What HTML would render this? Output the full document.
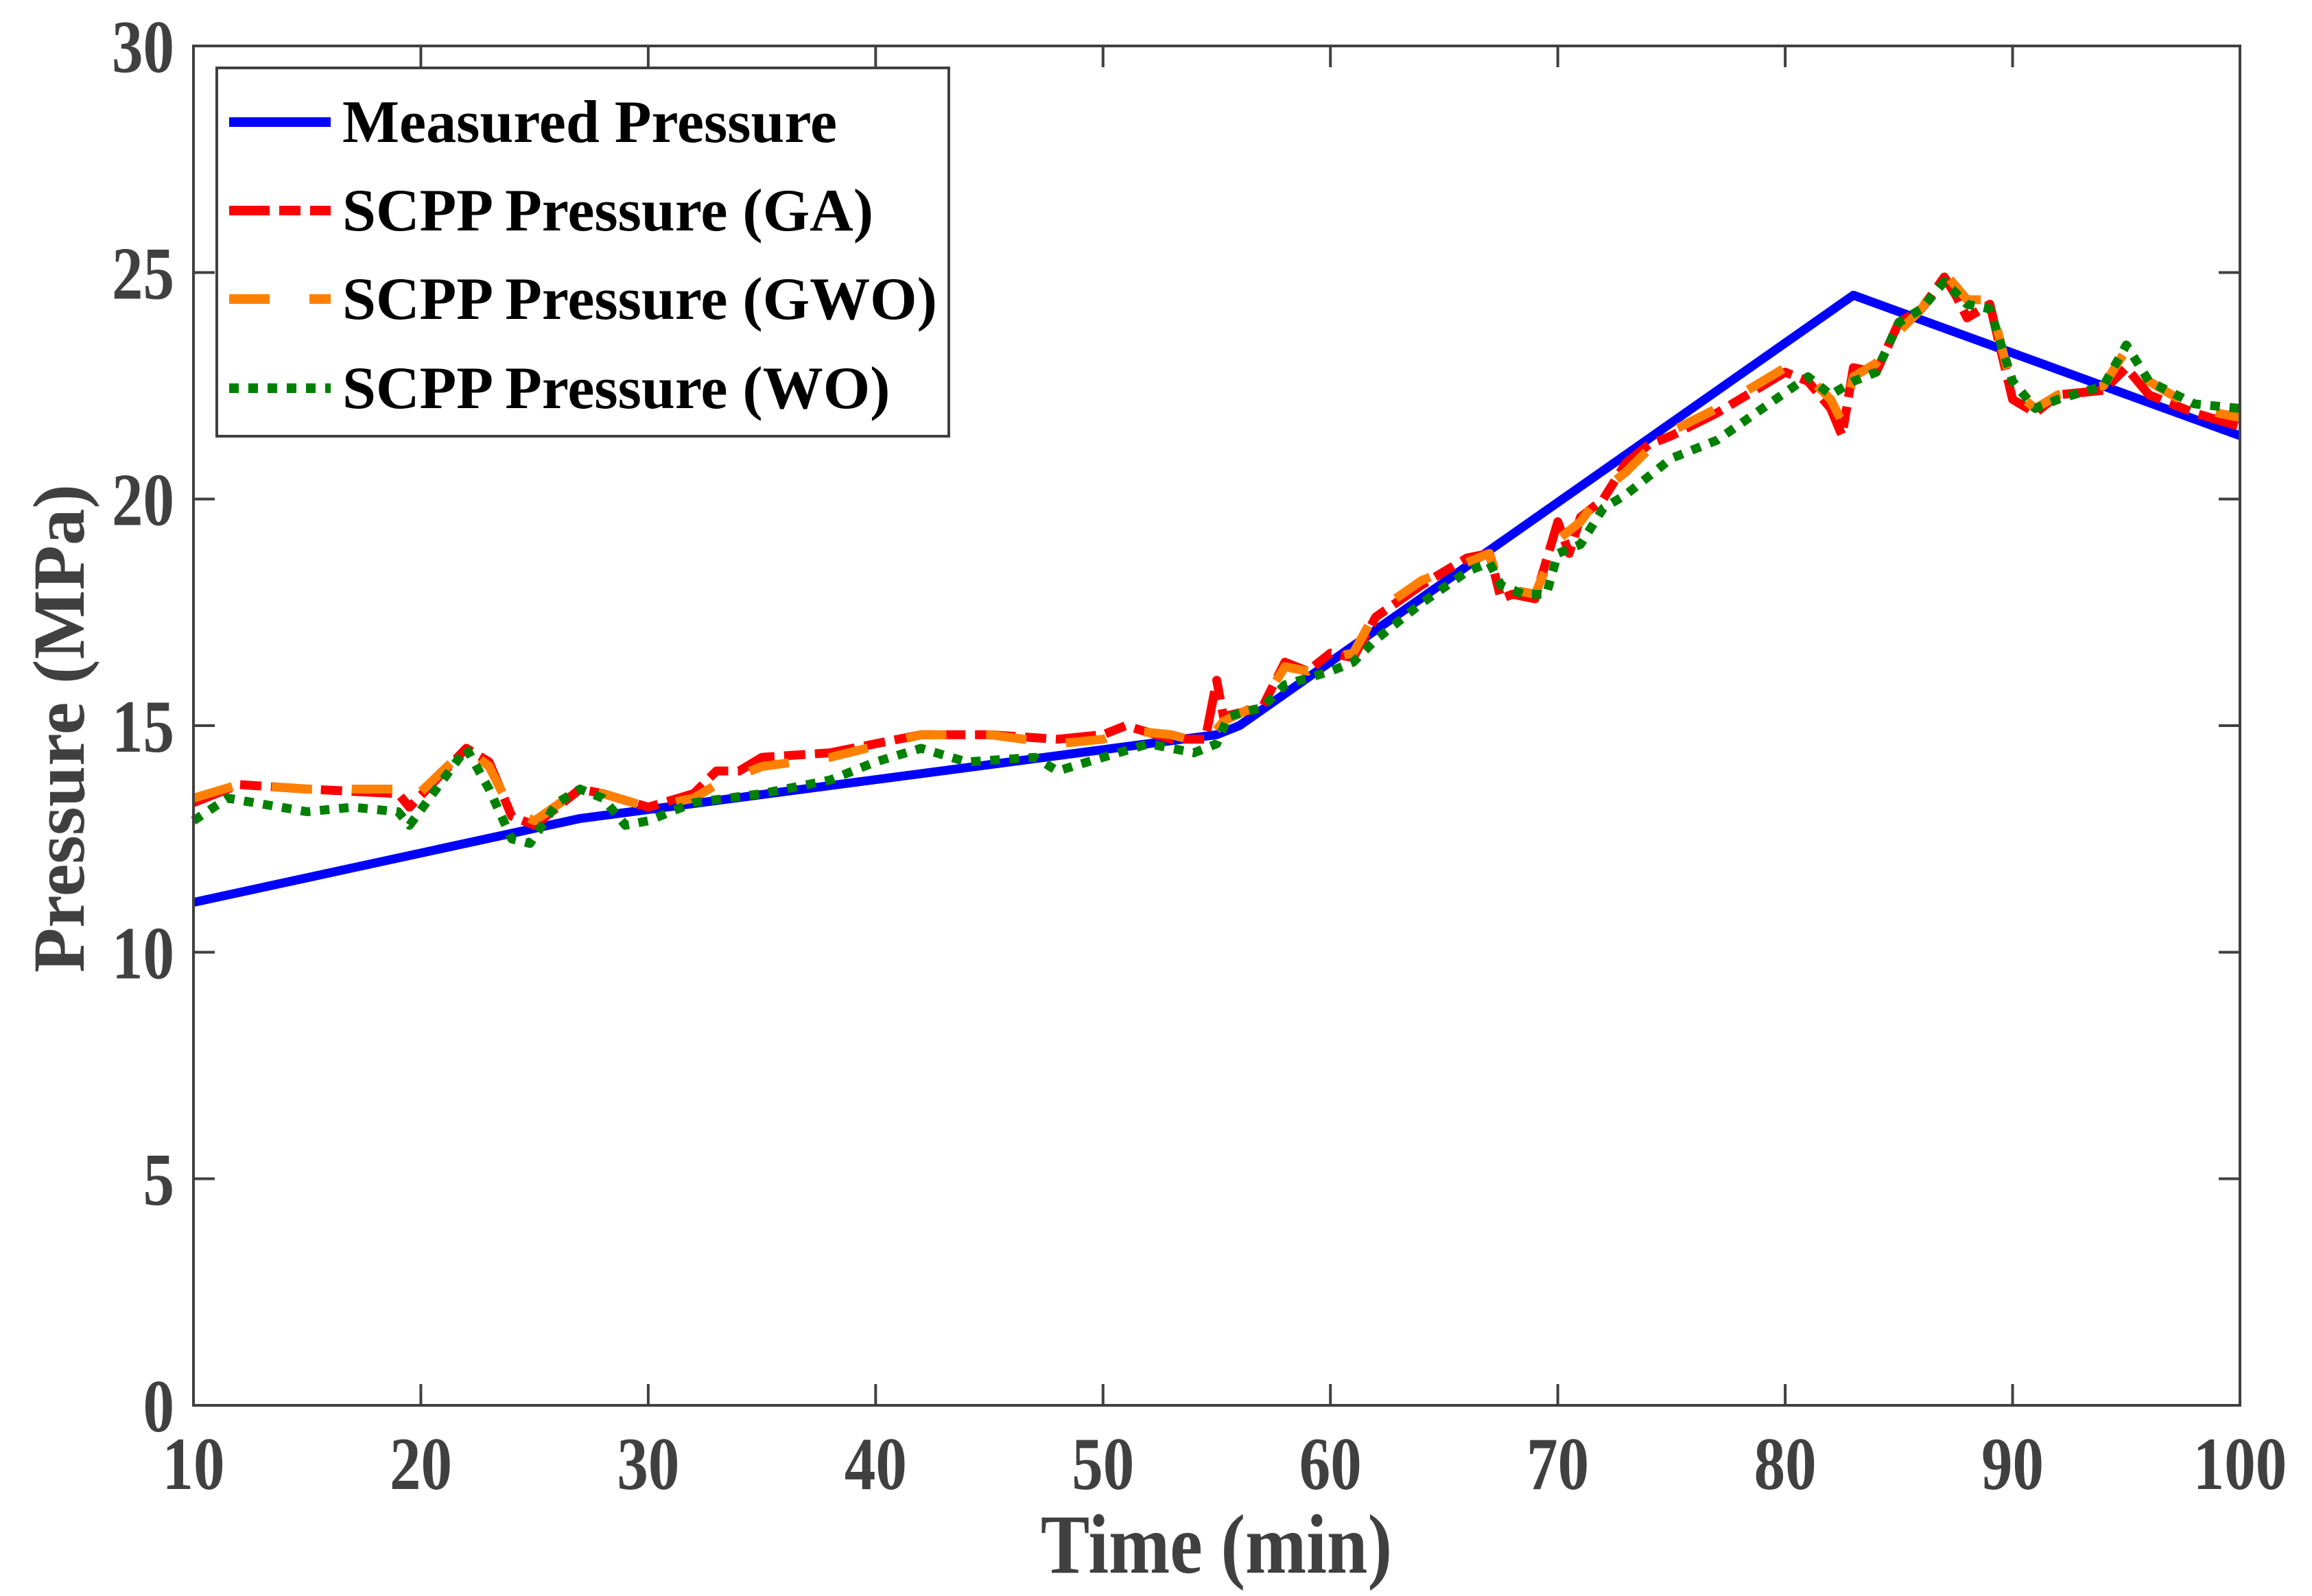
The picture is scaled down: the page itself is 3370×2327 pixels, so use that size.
<!DOCTYPE html>
<html><head><meta charset="utf-8"><style>
body{margin:0;background:#fff}
svg text{font-family:"Liberation Serif",serif;font-weight:bold}
</style></head><body>
<svg id="c" width="3370" height="2322" xmlns="http://www.w3.org/2000/svg">
<rect width="3370" height="2322" fill="#fff"/>
<g id="plot"></g>
<g id="axes"></g>
<text transform="translate(1773,2293) scale(1,1.15)" font-size="107" text-anchor="middle" fill="#404040">Time (min)</text>
<text transform="translate(122,1062) rotate(-90)" font-size="107" text-anchor="middle" fill="#404040">Pressure (MPa)</text>
<g>
<rect x="316" y="99" width="1067" height="537" fill="#fff" stroke="#404040" stroke-width="4"/>
<line x1="334" y1="178" x2="482" y2="178" stroke="#0000ff" stroke-width="14"/>
<line x1="334" y1="307" x2="482" y2="307" stroke="#ff0000" stroke-width="14" stroke-dasharray="59,14,31,14,31"/>
<line x1="334" y1="436" x2="482" y2="436" stroke="#ff8000" stroke-width="14" stroke-dasharray="59,58,31"/>
<line x1="334" y1="566" x2="482" y2="566" stroke="#008000" stroke-width="14" stroke-dasharray="14,14"/>
<text x="499" y="207" font-size="88">Measured Pressure</text>
<text x="499" y="336" font-size="88">SCPP Pressure (GA)</text>
<text x="499" y="465" font-size="88">SCPP Pressure (GWO)</text>
<text x="499" y="595" font-size="88">SCPP Pressure (WO)</text>
</g>
</svg>
<script>
const xTicks=[10,20,30,40,50,60,70,80,90,100];
const yTicks=[0,5,10,15,20,25,30];
const measT=[10,27,55,56,83,100];
const measV=[11.1,12.95,14.8,15.0,24.5,21.4];
const gaT=[10,12,15,19,19.5,22,23,24,25,27,28,30,32,33,34,35,38,42,45,48,50,51,53,54.5,55,55.3,57,58,59,60,61,62,64,66,67,67.5,68,69,70,70.5,71,72,73,74,75,77,80,81,82,82.5,83,84,85,86,87,87.5,88,89,90,91,92,94,95,96,98,100];
const gaV=[13.3,13.7,13.6,13.5,13.2,14.5,14.2,13.0,12.8,13.6,13.5,13.2,13.5,14.0,14.0,14.3,14.4,14.8,14.8,14.7,14.8,15.0,14.7,14.7,16.0,15.2,15.4,16.4,16.2,16.6,16.5,17.4,18.1,18.7,18.8,17.8,17.9,17.8,19.5,18.8,19.6,20.0,20.8,21.2,21.4,21.9,22.8,22.6,22.0,21.4,22.9,22.8,23.9,24.2,24.9,24.5,24.0,24.3,22.2,21.9,22.3,22.4,22.9,22.3,21.9,21.6];
const gwoT=[10,12,15,19,19.5,22,23,24,25,27,28,30,32,33,34,35,38,42,45,48,50,51,53,54.5,55.3,57,58,59,60,61,62,64,66,67,67.5,68,69,70,71,72,73,74,75,77,80,81,82,82.5,83,84,85,86,87,88,89,90,91,92,94,95,96,98,100];
const gwoV=[13.4,13.7,13.6,13.6,13.3,14.5,14.1,13.1,12.9,13.6,13.5,13.2,13.4,13.7,13.9,14.1,14.3,14.8,14.8,14.6,14.7,14.9,14.8,14.6,15.1,15.5,16.3,16.2,16.5,16.6,17.5,18.2,18.6,18.8,18.0,18.0,17.9,19.1,19.5,20.2,20.6,21.1,21.5,22.0,22.9,22.7,22.2,21.7,22.7,23.0,23.7,24.2,25.0,24.4,24.4,22.4,22.0,22.3,22.5,23.3,22.6,22.0,21.8];
const woT=[10,11.5,15,17,19,19.5,22,23,24,24.8,26,27,28,29,30,32,35,38,40,42,44,47,48,50,52,54,55,55.5,57,58,60,61,62,64,66,67,67.5,68.5,69.5,70,71,72,73,74,75,77,79,81,82,83,84,85,86,87,88,89,90,91,92,94,95,96,98,100];
const woV=[12.9,13.4,13.1,13.2,13.1,12.8,14.5,13.6,12.5,12.4,13.3,13.6,13.4,12.8,12.9,13.3,13.5,13.8,14.2,14.5,14.2,14.3,14.0,14.3,14.6,14.4,14.6,15.2,15.4,15.9,16.2,16.4,16.9,17.7,18.4,18.6,18.1,17.9,17.9,18.8,19.0,19.8,20.1,20.5,20.9,21.3,22.0,22.7,22.3,22.6,22.8,23.9,24.2,24.8,24.3,24.2,22.6,22.0,22.2,22.5,23.4,22.6,22.1,22.0];
const L=282,R=3265,T=67,B=2049;
const sx=t=>L+(t-10)/90*(R-L);
const sy=v=>B-v/30*(B-T);
const NS="http://www.w3.org/2000/svg";
const plot=document.getElementById('plot'),axes=document.getElementById('axes');
function mk(tag,at,par){const e=document.createElementNS(NS,tag);for(const k in at)e.setAttribute(k,at[k]);par.appendChild(e);return e;}
function series(ts,vs,color,dash,name){
 const d=ts.map((t,i)=>(i?'L':'M')+sx(t).toFixed(1)+','+sy(vs[i]).toFixed(1)).join('');
 const p=mk('path',{d:d,fill:'none',stroke:color,'stroke-width':13,'stroke-dasharray':dash,'stroke-linejoin':'round'},plot);
 
 
}
series(measT,measV,'#0000ff','none','measured-pressure-line');
series(gaT,gaV,'#ff0000','59,14,31,14','ga-line');
series(gwoT,gwoV,'#ff8000','59,58','gwo-line');
series(woT,woV,'#008000','14,14','wo-line');
const fr=mk('rect',{x:L,y:T,width:R-L,height:B-T,fill:'none',stroke:'#404040','stroke-width':4},axes);


xTicks.forEach(t=>{
 const x=sx(t);
 mk('line',{x1:x,y1:B,x2:x,y2:B-31,stroke:'#404040','stroke-width':4},axes);
 mk('line',{x1:x,y1:T,x2:x,y2:T+31,stroke:'#404040','stroke-width':4},axes);
 const tx=mk('text',{transform:'translate('+x+','+(B+122)+') scale(1,1.2)','font-size':91,'text-anchor':'middle',fill:'#404040'},axes);
 tx.textContent=t;
 
 
});
yTicks.forEach(v=>{
 const y=sy(v);
 mk('line',{x1:L,y1:y,x2:L+31,y2:y,stroke:'#404040','stroke-width':4},axes);
 mk('line',{x1:R,y1:y,x2:R-31,y2:y,stroke:'#404040','stroke-width':4},axes);
 const tx=mk('text',{transform:'translate('+(L-28)+','+(y+38)+') scale(1,1.2)','font-size':91,'text-anchor':'end',fill:'#404040'},axes);
 tx.textContent=v;
 
 
});
</script>
</body></html>
